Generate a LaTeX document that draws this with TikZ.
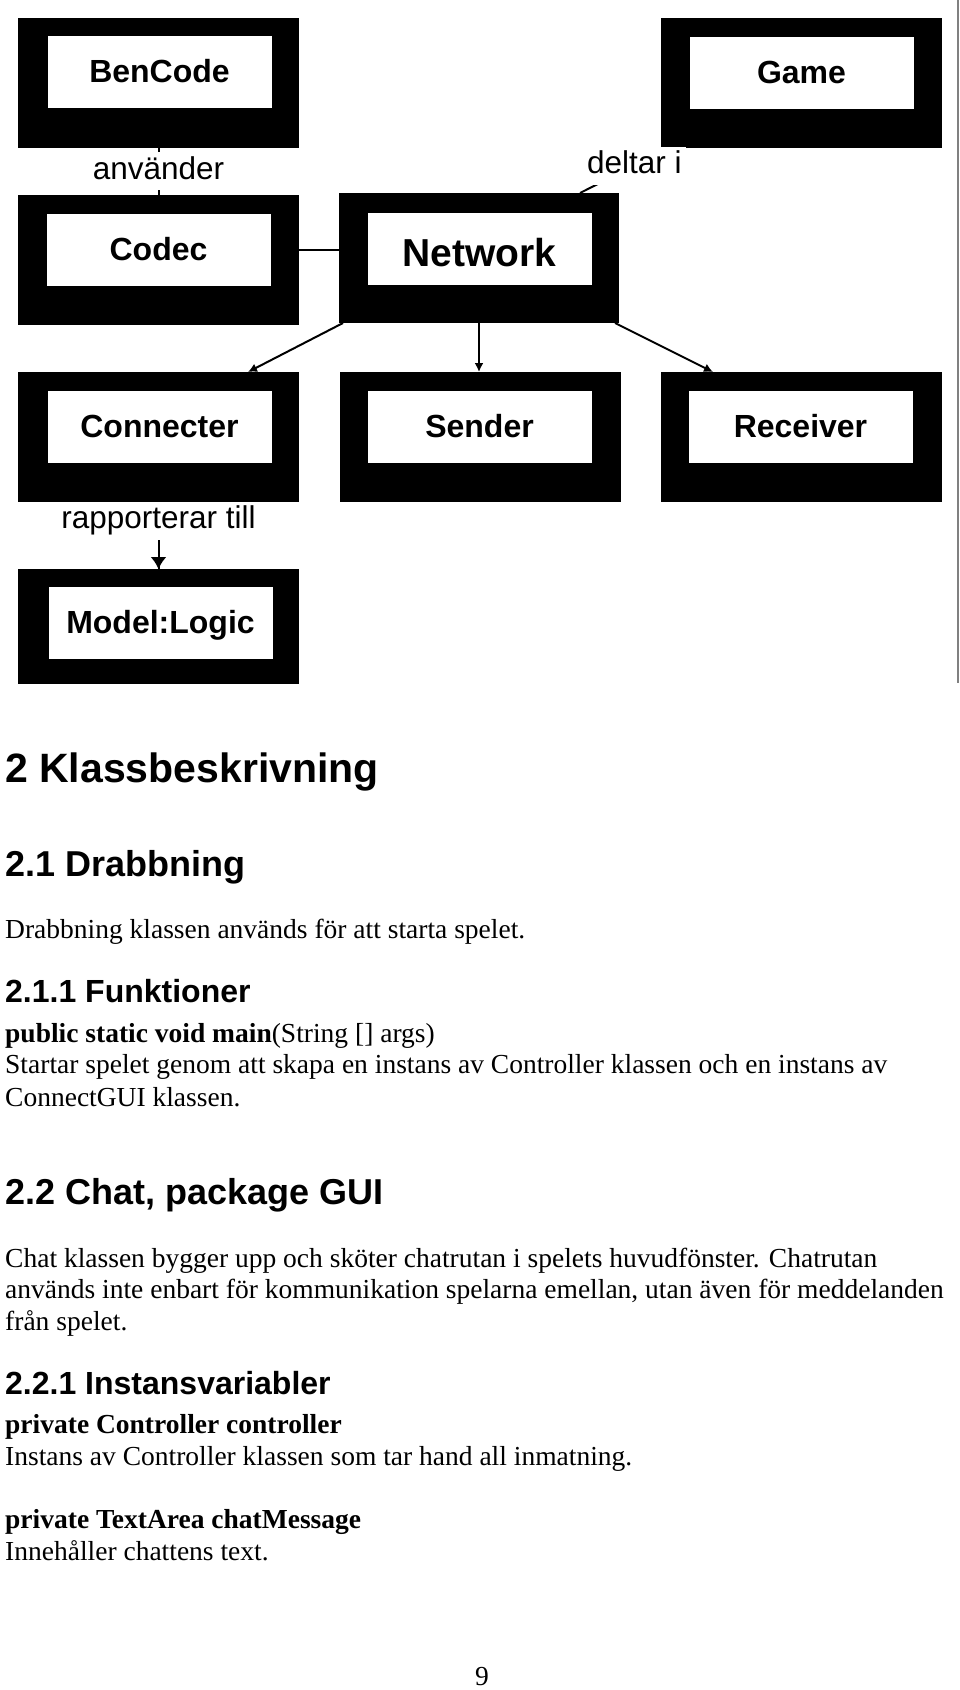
\documentclass[tikz,border=0pt]{standalone}
\usepackage{fontspec}
\setmainfont{Liberation Serif}
\setsansfont{Liberation Sans}
\usetikzlibrary{arrows.meta}

\begin{document}
\begin{tikzpicture}[x=1pt, y=-1pt,
  classbox/.style={fill=black, inner sep=0pt, outer sep=0pt, minimum width=281pt, minimum height=130pt},
  classname/.style={fill=white, inner sep=0pt, minimum width=224pt, minimum height=72pt, text height=21pt, text depth=0pt, font=\sffamily\bfseries\fontsize{32}{38}\selectfont},
  rel/.style={fill=white, inner sep=4pt, text height=23pt, text depth=7pt, font=\sffamily\fontsize{31.5}{38}\selectfont},
  link/.style={line width=2pt},
  h1/.style={anchor=base west, inner sep=0pt, font=\sffamily\bfseries\fontsize{41}{49}\selectfont},
  h2/.style={anchor=base west, inner sep=0pt, font=\sffamily\bfseries\fontsize{36}{43}\selectfont},
  h3/.style={anchor=base west, inner sep=0pt, font=\sffamily\bfseries\fontsize{32}{38}\selectfont},
  body/.style={anchor=base west, inner sep=0pt, font=\fontsize{27.5}{32}\selectfont}]
\useasboundingbox (0,0) rectangle (960,1690);

% page edge
\draw[gray, line width=2pt] (958,0) -- (958,683);

% class boxes
\node[classbox] (bencode) at (158.5,82.5) {};
\node[classname] (bencode-t) at (159.5,72) {BenCode};
\node[classbox] (game) at (801.5,82.5) {};
\node[classname] (game-t) at (801.5,73) {Game};

\node[classbox] (codec) at (158.5,260) {};
\node[classname] (codec-t) at (158.5,249.5) {Codec};
\node[classbox, minimum width=280pt] (network) at (479,258) {};
\node[classname, text height=36pt, font=\sffamily\bfseries\fontsize{39}{46}\selectfont] (network-t) at (479.5,248.5) {Network};

\node[classbox] (connecter) at (158.5,437) {};
\node[classname] (connecter-t) at (159.5,426.5) {Connecter};
\node[classbox] (sender) at (480,437) {};
\node[classname] (sender-t) at (479.5,426.5) {Sender};
\node[classbox] (receiver) at (801.5,437) {};
\node[classname] (receiver-t) at (800.5,426.5) {Receiver};

\node[classbox, minimum height=115pt] (logic) at (158.5,626.5) {};
\node[classname] (logic-t) at (160.5,623) {Model:Logic};

% relations
\draw[link] (bencode.south) -- node[rel, midway] {använder} (codec.north);
\draw[link] (codec-t.east -| codec.east) -- (codec-t.east -| network.west);
\draw[link] ([xshift=101pt]network.north) -- node[rel, pos=0.6] {deltar i} ([xshift=-131pt]game.south);
\draw[link, -{Latex[length=9pt,width=9pt]}] ([xshift=4pt]network.south west) -- ([xshift=89.5pt]connecter.north);
\draw[link, -{Latex[length=9pt,width=9pt]}] (network.south) -- (network.south |- sender.north);
\draw[link, -{Latex[length=9pt,width=9pt]}] ([xshift=136pt]network.south) -- ([xshift=-88.5pt]receiver.north);
\draw[link] (connecter.south) -- node[rel, pos=0.28, inner xsep=15pt] {rapporterar till} (connecter.south |- logic.north);
\draw[link, -{Latex[length=12pt,width=16pt]}] (connecter.south |- 0,540) -- (connecter.south |- logic.north);

% text
\node[h1] (klass) at (5,782) {2 Klassbeskrivning};
\node[h2] (drabbning) at (5,876) {2.1 Drabbning};
\node[body] (drabbning-1) at (5,938) {Drabbning klassen används för att starta spelet.};
\node[h3] (funktioner) at (5,1002) {2.1.1 Funktioner};
\node[body] (main) at (5,1042) {\textbf{public static void main}(String [] args)};
\node[body] (main-1) at (5,1073) {Startar spelet genom att skapa en instans av Controller klassen och en instans av};
\node[body] (main-2) at (5,1106) {ConnectGUI klassen.};
\node[h2] (chat) at (5,1204) {2.2 Chat, package GUI};
\node[body] (chat-1) at (5,1267) {Chat klassen bygger upp och sköter chatrutan i spelets huvudfönster. Chatrutan};
\node[body] (chat-2) at (5,1298) {används inte enbart för kommunikation spelarna emellan, utan även för meddelanden};
\node[body] (chat-3) at (5,1330) {från spelet.};
\node[h3] (instans) at (5,1394) {2.2.1 Instansvariabler};
\node[body] (controller) at (5,1433) {\textbf{private Controller controller}};
\node[body] (controller-1) at (5,1465) {Instans av Controller klassen som tar hand all inmatning.};
\node[body] (message) at (5,1528) {\textbf{private TextArea chatMessage}};
\node[body] (message-1) at (5,1560) {Innehåller chattens text.};
\node[body, anchor=base] (page) at (482,1685) {9};
\end{tikzpicture}
\end{document}
